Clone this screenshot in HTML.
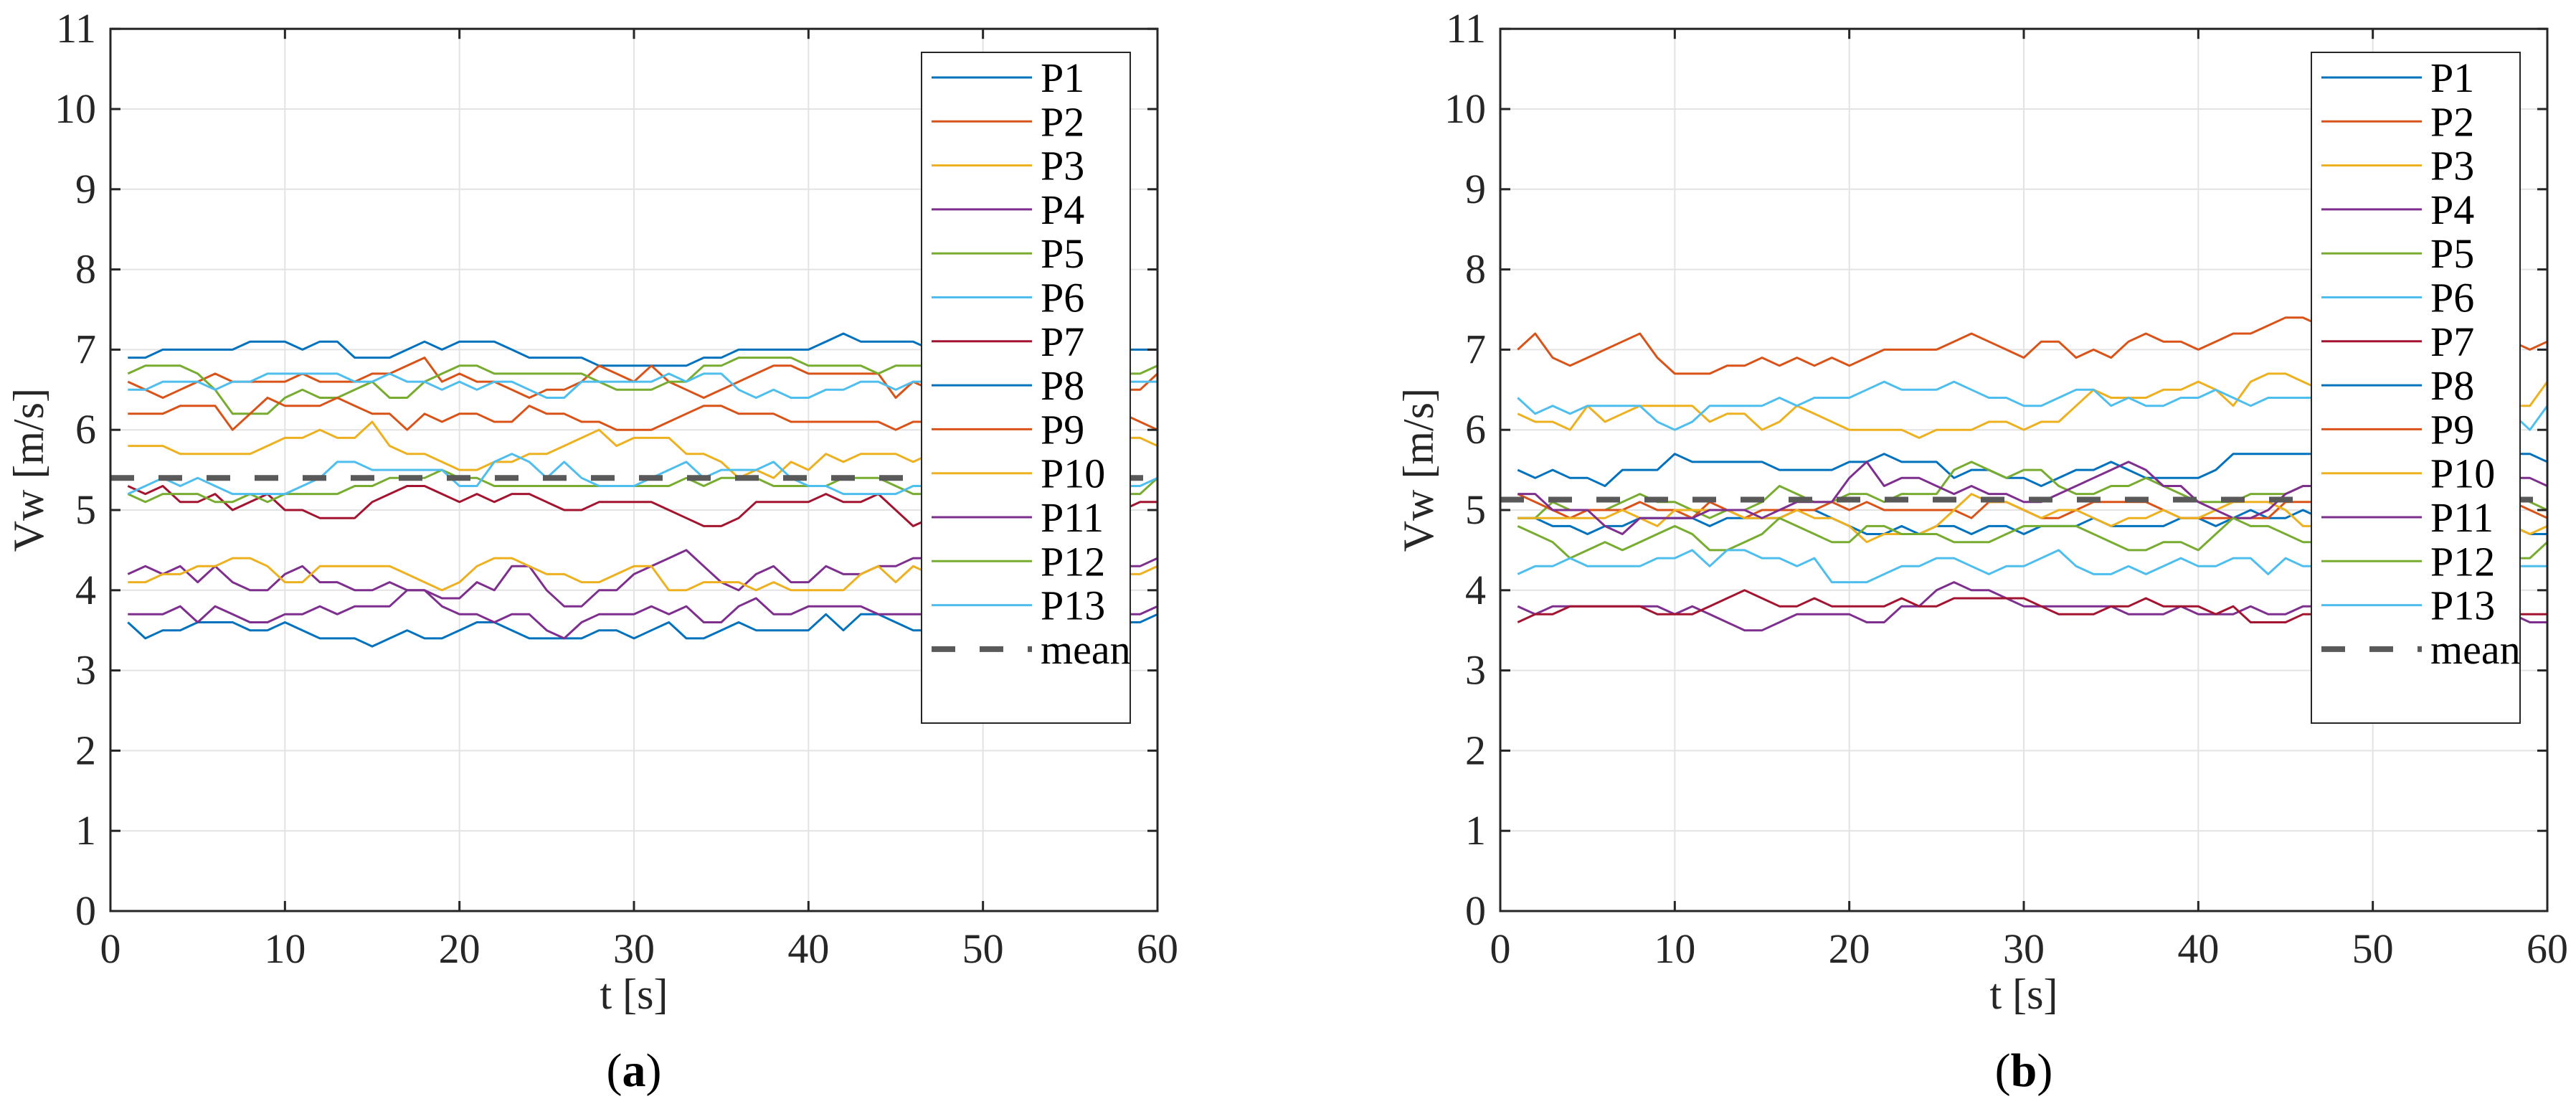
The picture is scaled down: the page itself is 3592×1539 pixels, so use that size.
<!DOCTYPE html>
<html><head><meta charset="utf-8">
<style>
html,body{margin:0;padding:0;background:#fff;}
svg{display:block;}
svg text{font-family:"Liberation Serif","Times New Roman","DejaVu Serif",serif;}
</style></head>
<body>
<svg id="chart" width="3592" height="1539" viewBox="0 0 3592 1539" xmlns="http://www.w3.org/2000/svg" font-family="'Liberation Serif', 'DejaVu Serif', serif"></svg>
<script>
// ---- data: time axis (seconds 1..60) ----
const times = [1,2,3,4,5,6,7,8,9,10,11,12,13,14,15,16,17,18,19,20,21,22,23,24,25,26,27,28,29,30,31,32,33,34,35,36,37,38,39,40,41,42,43,44,45,46,47,48,49,50,51,52,53,54,55,56,57,58,59,60];
const xTicks = [0,10,20,30,40,50,60];
const yTicks = [0,1,2,3,4,5,6,7,8,9,10,11];
const legendLabels = ["P1","P2","P3","P4","P5","P6","P7","P8","P9","P10","P11","P12","P13"];
const seriesColors = ["#0072BD","#D95319","#EDB120","#7E2F8E","#77AC30","#4DBEEE","#A2142F","#0072BD","#D95319","#EDB120","#7E2F8E","#77AC30","#4DBEEE"];

// ---- panel (a) ----
const a_P1 = [6.9,6.9,7.0,7.0,7.0,7.0,7.0,7.1,7.1,7.1, 7.0,7.1,7.1,6.9,6.9,6.9,7.0,7.1,7.0,7.1, 7.1,7.1,7.0,6.9,6.9,6.9,6.9,6.8,6.8,6.8, 6.8,6.8,6.8,6.9,6.9,7.0,7.0,7.0,7.0,7.0, 7.1,7.2,7.1,7.1,7.1,7.1,7.0,7.0,7.0,7.0, 7.0,7.0,7.0,7.0,7.0,7.0,7.0,7.0,7.0,7.0];
const a_P2 = [6.6,6.5,6.4,6.5,6.6,6.7,6.6,6.6,6.6,6.6, 6.7,6.6,6.6,6.6,6.7,6.7,6.8,6.9,6.6,6.7, 6.6,6.6,6.5,6.4,6.5,6.5,6.6,6.8,6.7,6.6, 6.8,6.6,6.5,6.4,6.5,6.6,6.7,6.8,6.8,6.7, 6.7,6.7,6.7,6.7,6.4,6.6,6.5,6.5,6.5,6.5, 6.5,6.5,6.5,6.5,6.5,6.5,6.5,6.5,6.5,6.7];
const a_P3 = [5.8,5.8,5.8,5.7,5.7,5.7,5.7,5.7,5.8,5.9, 5.9,6.0,5.9,5.9,6.1,5.8,5.7,5.7,5.6,5.5, 5.5,5.6,5.6,5.7,5.7,5.8,5.9,6.0,5.8,5.9, 5.9,5.9,5.7,5.7,5.6,5.4,5.5,5.4,5.6,5.5, 5.7,5.6,5.7,5.7,5.7,5.6,5.7,5.7,5.7,5.7, 5.7,5.7,5.7,5.7,5.7,5.7,5.8,5.9,5.9,5.8];
const a_P4 = [4.2,4.3,4.2,4.3,4.1,4.3,4.1,4.0,4.0,4.2, 4.3,4.1,4.1,4.0,4.0,4.1,4.0,4.0,3.9,3.9, 4.1,4.0,4.3,4.3,4.0,3.8,3.8,4.0,4.0,4.2, 4.3,4.4,4.5,4.3,4.1,4.0,4.2,4.3,4.1,4.1, 4.3,4.2,4.2,4.3,4.3,4.4,4.4,4.4,4.4,4.4, 4.4,4.4,4.4,4.4,4.4,4.4,4.3,4.3,4.3,4.4];
const a_P5 = [6.7,6.8,6.8,6.8,6.7,6.5,6.2,6.2,6.2,6.4, 6.5,6.4,6.4,6.5,6.6,6.4,6.4,6.6,6.7,6.8, 6.8,6.7,6.7,6.7,6.7,6.7,6.7,6.6,6.5,6.5, 6.5,6.6,6.6,6.8,6.8,6.9,6.9,6.9,6.9,6.8, 6.8,6.8,6.8,6.7,6.8,6.8,6.8,6.8,6.8,6.8, 6.8,6.8,6.8,6.8,6.8,6.8,6.8,6.7,6.7,6.8];
const a_P6 = [6.5,6.5,6.6,6.6,6.6,6.5,6.6,6.6,6.7,6.7, 6.7,6.7,6.7,6.6,6.6,6.7,6.6,6.6,6.5,6.6, 6.5,6.6,6.6,6.5,6.4,6.4,6.6,6.6,6.6,6.6, 6.6,6.7,6.6,6.7,6.7,6.5,6.4,6.5,6.4,6.4, 6.5,6.5,6.6,6.6,6.5,6.6,6.6,6.6,6.6,6.6, 6.6,6.6,6.6,6.6,6.6,6.6,6.6,6.6,6.6,6.6];
const a_P7 = [5.3,5.2,5.3,5.1,5.1,5.2,5.0,5.1,5.2,5.0, 5.0,4.9,4.9,4.9,5.1,5.2,5.3,5.3,5.2,5.1, 5.2,5.1,5.2,5.2,5.1,5.0,5.0,5.1,5.1,5.1, 5.1,5.0,4.9,4.8,4.8,4.9,5.1,5.1,5.1,5.1, 5.2,5.1,5.1,5.2,5.0,4.8,4.9,5.0,5.0,5.0, 5.0,5.0,5.0,5.0,5.0,5.0,5.0,5.0,5.1,5.1];
const a_P8 = [3.6,3.4,3.5,3.5,3.6,3.6,3.6,3.5,3.5,3.6, 3.5,3.4,3.4,3.4,3.3,3.4,3.5,3.4,3.4,3.5, 3.6,3.6,3.5,3.4,3.4,3.4,3.4,3.5,3.5,3.4, 3.5,3.6,3.4,3.4,3.5,3.6,3.5,3.5,3.5,3.5, 3.7,3.5,3.7,3.7,3.6,3.5,3.5,3.5,3.5,3.5, 3.5,3.5,3.5,3.5,3.5,3.5,3.6,3.6,3.6,3.7];
const a_P9 = [6.2,6.2,6.2,6.3,6.3,6.3,6.0,6.2,6.4,6.3, 6.3,6.3,6.4,6.3,6.2,6.2,6.0,6.2,6.1,6.2, 6.2,6.1,6.1,6.3,6.2,6.2,6.1,6.1,6.0,6.0, 6.0,6.1,6.2,6.3,6.3,6.2,6.2,6.2,6.1,6.1, 6.1,6.1,6.1,6.1,6.0,6.1,6.1,6.1,6.1,6.1, 6.1,6.1,6.1,6.1,6.1,6.1,6.2,6.2,6.1,6.0];
const a_P10 = [4.1,4.1,4.2,4.2,4.3,4.3,4.4,4.4,4.3,4.1, 4.1,4.3,4.3,4.3,4.3,4.3,4.2,4.1,4.0,4.1, 4.3,4.4,4.4,4.3,4.2,4.2,4.1,4.1,4.2,4.3, 4.3,4.0,4.0,4.1,4.1,4.1,4.0,4.1,4.0,4.0, 4.0,4.0,4.2,4.3,4.1,4.3,4.2,4.2,4.2,4.2, 4.2,4.2,4.2,4.2,4.2,4.2,4.2,4.2,4.2,4.3];
const a_P11 = [3.7,3.7,3.7,3.8,3.6,3.8,3.7,3.6,3.6,3.7, 3.7,3.8,3.7,3.8,3.8,3.8,4.0,4.0,3.8,3.7, 3.7,3.6,3.7,3.7,3.5,3.4,3.6,3.7,3.7,3.7, 3.8,3.7,3.8,3.6,3.6,3.8,3.9,3.7,3.7,3.8, 3.8,3.8,3.8,3.7,3.7,3.7,3.7,3.7,3.7,3.7, 3.7,3.7,3.7,3.7,3.7,3.7,3.7,3.7,3.7,3.8];
const a_P12 = [5.2,5.1,5.2,5.2,5.2,5.1,5.1,5.2,5.1,5.2, 5.2,5.2,5.2,5.3,5.3,5.4,5.4,5.4,5.5,5.4, 5.4,5.3,5.3,5.3,5.3,5.3,5.3,5.3,5.3,5.3, 5.3,5.3,5.4,5.3,5.4,5.4,5.4,5.3,5.3,5.3, 5.3,5.4,5.4,5.4,5.3,5.2,5.2,5.2,5.2,5.2, 5.2,5.2,5.2,5.2,5.2,5.2,5.2,5.2,5.2,5.4];
const a_P13 = [5.2,5.3,5.4,5.3,5.4,5.3,5.2,5.2,5.2,5.2, 5.3,5.4,5.6,5.6,5.5,5.5,5.5,5.5,5.5,5.3, 5.3,5.6,5.7,5.6,5.4,5.6,5.4,5.3,5.3,5.3, 5.4,5.5,5.6,5.4,5.5,5.5,5.5,5.6,5.4,5.3, 5.3,5.2,5.2,5.2,5.2,5.3,5.3,5.3,5.3,5.3, 5.3,5.3,5.3,5.3,5.3,5.3,5.3,5.3,5.3,5.4];
const a_mean = 5.4;

// ---- panel (b) ----
const b_P1 = [5.5,5.4,5.5,5.4,5.4,5.3,5.5,5.5,5.5,5.7, 5.6,5.6,5.6,5.6,5.6,5.5,5.5,5.5,5.5,5.6, 5.6,5.7,5.6,5.6,5.6,5.4,5.5,5.5,5.4,5.4, 5.3,5.4,5.5,5.5,5.6,5.5,5.4,5.4,5.4,5.4, 5.5,5.7,5.7,5.7,5.7,5.7,5.7,5.7,5.7,5.7, 5.7,5.7,5.7,5.7,5.7,5.7,5.7,5.7,5.7,5.6];
const b_P2 = [7.0,7.2,6.9,6.8,6.9,7.0,7.1,7.2,6.9,6.7, 6.7,6.7,6.8,6.8,6.9,6.8,6.9,6.8,6.9,6.8, 6.9,7.0,7.0,7.0,7.0,7.1,7.2,7.1,7.0,6.9, 7.1,7.1,6.9,7.0,6.9,7.1,7.2,7.1,7.1,7.0, 7.1,7.2,7.2,7.3,7.4,7.4,7.3,7.3,7.3,7.3, 7.3,7.3,7.3,7.3,7.3,7.3,7.2,7.1,7.0,7.1];
const b_P3 = [6.2,6.1,6.1,6.0,6.3,6.1,6.2,6.3,6.3,6.3, 6.3,6.1,6.2,6.2,6.0,6.1,6.3,6.2,6.1,6.0, 6.0,6.0,6.0,5.9,6.0,6.0,6.0,6.1,6.1,6.0, 6.1,6.1,6.3,6.5,6.4,6.4,6.4,6.5,6.5,6.6, 6.5,6.3,6.6,6.7,6.7,6.6,6.5,6.5,6.5,6.5, 6.5,6.5,6.5,6.5,6.5,6.5,6.4,6.3,6.3,6.6];
const b_P4 = [3.8,3.7,3.8,3.8,3.8,3.8,3.8,3.8,3.8,3.7, 3.8,3.7,3.6,3.5,3.5,3.6,3.7,3.7,3.7,3.7, 3.6,3.6,3.8,3.8,4.0,4.1,4.0,4.0,3.9,3.8, 3.8,3.8,3.8,3.8,3.8,3.7,3.7,3.7,3.8,3.7, 3.7,3.7,3.8,3.7,3.7,3.8,3.8,3.8,3.8,3.8, 3.8,3.8,3.8,3.8,3.8,3.8,3.7,3.7,3.6,3.6];
const b_P5 = [4.9,4.9,5.1,5.0,5.0,5.0,5.1,5.2,5.1,5.1, 5.0,4.9,5.0,5.0,5.1,5.3,5.2,5.1,5.1,5.2, 5.2,5.1,5.2,5.2,5.2,5.5,5.6,5.5,5.4,5.5, 5.5,5.3,5.2,5.2,5.3,5.3,5.4,5.3,5.2,5.1, 5.1,5.1,5.2,5.2,5.2,5.3,5.3,5.3,5.3,5.3, 5.3,5.3,5.3,5.3,5.3,5.3,5.2,5.2,5.1,5.0];
const b_P6 = [6.4,6.2,6.3,6.2,6.3,6.3,6.3,6.3,6.1,6.0, 6.1,6.3,6.3,6.3,6.3,6.4,6.3,6.4,6.4,6.4, 6.5,6.6,6.5,6.5,6.5,6.6,6.5,6.4,6.4,6.3, 6.3,6.4,6.5,6.5,6.3,6.4,6.3,6.3,6.4,6.4, 6.5,6.4,6.3,6.4,6.4,6.4,6.4,6.4,6.4,6.4, 6.4,6.4,6.4,6.4,6.4,6.4,6.3,6.2,6.0,6.3];
const b_P7 = [3.6,3.7,3.7,3.8,3.8,3.8,3.8,3.8,3.7,3.7, 3.7,3.8,3.9,4.0,3.9,3.8,3.8,3.9,3.8,3.8, 3.8,3.8,3.9,3.8,3.8,3.9,3.9,3.9,3.9,3.9, 3.8,3.7,3.7,3.7,3.8,3.8,3.9,3.8,3.8,3.8, 3.7,3.8,3.6,3.6,3.6,3.7,3.7,3.7,3.7,3.7, 3.7,3.7,3.7,3.7,3.7,3.7,3.7,3.7,3.7,3.7];
const b_P8 = [4.9,4.9,4.8,4.8,4.7,4.8,4.8,4.9,4.9,4.9, 4.9,4.8,4.9,4.9,4.9,4.9,5.0,5.0,4.9,4.8, 4.7,4.7,4.8,4.7,4.8,4.8,4.7,4.8,4.8,4.7, 4.8,4.8,4.8,4.9,4.8,4.8,4.8,4.8,4.9,4.9, 4.8,4.9,5.0,4.9,4.9,5.0,4.9,4.9,4.9,4.9, 4.9,4.9,4.9,4.9,4.9,4.9,4.8,4.8,4.7,4.7];
const b_P9 = [5.2,5.1,5.0,4.9,5.0,5.0,5.0,5.1,5.0,5.0, 4.9,5.1,5.0,4.9,5.0,5.0,5.0,5.0,5.1,5.0, 5.1,5.0,5.0,5.0,5.0,5.0,4.9,5.1,5.1,5.0, 4.9,4.9,5.0,5.1,5.1,5.1,5.1,5.0,4.9,4.9, 4.9,4.9,4.9,4.9,5.1,5.1,5.1,5.1,5.1,5.1, 5.1,5.1,5.1,5.1,5.1,5.1,5.1,5.1,5.0,4.9];
const b_P10 = [4.9,4.9,4.9,4.9,4.9,4.9,5.0,4.9,4.8,5.0, 5.0,5.0,5.0,4.9,4.9,4.9,5.0,4.9,4.9,4.8, 4.6,4.7,4.7,4.7,4.8,5.0,5.2,5.1,5.1,5.0, 4.9,5.0,5.0,4.9,4.8,4.9,4.9,5.0,4.9,4.9, 5.0,5.1,5.1,5.1,5.0,4.8,4.8,4.8,4.8,4.8, 4.8,4.8,4.8,4.8,4.8,4.8,4.8,4.8,4.7,4.8];
const b_P11 = [5.2,5.2,5.0,5.0,5.0,4.8,4.7,4.9,4.9,4.9, 4.9,5.0,5.0,5.0,4.9,5.0,5.1,5.1,5.1,5.4, 5.6,5.3,5.4,5.4,5.3,5.2,5.3,5.2,5.2,5.1, 5.1,5.2,5.3,5.4,5.5,5.6,5.5,5.3,5.3,5.1, 5.0,4.9,4.9,5.0,5.2,5.3,5.3,5.3,5.3,5.3, 5.3,5.3,5.3,5.3,5.3,5.3,5.3,5.4,5.4,5.3];
const b_P12 = [4.8,4.7,4.6,4.4,4.5,4.6,4.5,4.6,4.7,4.8, 4.7,4.5,4.5,4.6,4.7,4.9,4.8,4.7,4.6,4.6, 4.8,4.8,4.7,4.7,4.7,4.6,4.6,4.6,4.7,4.8, 4.8,4.8,4.8,4.7,4.6,4.5,4.5,4.6,4.6,4.5, 4.7,4.9,4.8,4.8,4.7,4.6,4.6,4.6,4.6,4.6, 4.6,4.6,4.6,4.6,4.6,4.6,4.5,4.4,4.4,4.6];
const b_P13 = [4.2,4.3,4.3,4.4,4.3,4.3,4.3,4.3,4.4,4.4, 4.5,4.3,4.5,4.5,4.4,4.4,4.3,4.4,4.1,4.1, 4.1,4.2,4.3,4.3,4.4,4.4,4.3,4.2,4.3,4.3, 4.4,4.5,4.3,4.2,4.2,4.3,4.2,4.3,4.4,4.3, 4.3,4.4,4.4,4.2,4.4,4.3,4.3,4.3,4.3,4.3, 4.3,4.3,4.3,4.3,4.3,4.3,4.3,4.3,4.3,4.3];
const b_mean = 5.13;

const NS = "http://www.w3.org/2000/svg";
const FONT = "'Liberation Serif', 'DejaVu Serif', serif";
const svg = document.getElementById("chart");
function mk(tag, attrs, parent) {
  const e = document.createElementNS(NS, tag);
  for (const k in attrs) e.setAttribute(k, attrs[k]);
  if (tag === "text") e.setAttribute("font-family", FONT);
  (parent || svg).appendChild(e);
  return e;
}

function drawPanel(ox, series, meanVal, letter) {
  const g = mk("g", {});
  
  
  const W = 1460, yBot = 1270, unit = 111.8;
  const xs = t => ox + t * W / 60;
  const ys = v => yBot - v * unit;
  xTicks.forEach(t => {
    const l = mk("line", {x1: xs(t), x2: xs(t), y1: ys(11), y2: ys(0), stroke: "#e3e3e3", "stroke-width": 2}, g);
    
    
  });
  yTicks.forEach(v => {
    const l = mk("line", {x1: xs(0), x2: xs(60), y1: ys(v), y2: ys(v), stroke: "#e3e3e3", "stroke-width": 2}, g);
    
    
  });
  series.forEach((vals, i) => {
    const pts = vals.map((v, k) => xs(times[k]).toFixed(1) + "," + ys(v).toFixed(1)).join(" ");
    const p = mk("polyline", {points: pts, fill: "none", stroke: seriesColors[i], "stroke-width": 3, "stroke-linejoin": "round"}, g);
    
    
  });
  const m = mk("line", {x1: xs(0), x2: xs(60), y1: ys(meanVal), y2: ys(meanVal), stroke: "#595959", "stroke-width": 8, "stroke-dasharray": "33 34"}, g);
  
  
  const box = mk("rect", {x: xs(0), y: ys(11), width: W, height: 11 * unit, fill: "none", stroke: "#262626", "stroke-width": 3}, g);
  
  
  xTicks.forEach(t => {
    mk("line", {x1: xs(t), x2: xs(t), y1: ys(0), y2: ys(0) - 14, stroke: "#262626", "stroke-width": 3}, g);
    mk("line", {x1: xs(t), x2: xs(t), y1: ys(11), y2: ys(11) + 14, stroke: "#262626", "stroke-width": 3}, g);
    const tx = mk("text", {x: xs(t), y: 1342, "text-anchor": "middle", "font-size": 58, fill: "#262626"}, g);
    tx.textContent = t;
    
    
  });
  yTicks.forEach(v => {
    mk("line", {x1: xs(0), x2: xs(0) + 14, y1: ys(v), y2: ys(v), stroke: "#262626", "stroke-width": 3}, g);
    mk("line", {x1: xs(60), x2: xs(60) - 14, y1: ys(v), y2: ys(v), stroke: "#262626", "stroke-width": 3}, g);
    const tx = mk("text", {x: ox - 20, y: ys(v) + 19, "text-anchor": "end", "font-size": 58, fill: "#262626"}, g);
    tx.textContent = v;
    
    
  });
  const xt = mk("text", {x: ox + 730, y: 1406, "text-anchor": "middle", "font-size": 60, fill: "#262626"}, g);
  xt.textContent = "t [s]";
  
  
  const yt = mk("text", {x: 0, y: 0, "text-anchor": "middle", "font-size": 60, fill: "#262626", transform: "translate(" + (ox - 94) + "," + ys(5.5) + ") rotate(-90)"}, g);
  yt.textContent = "Vw [m/s]";
  
  
  const cap = mk("text", {x: ox + 730, y: 1514, "text-anchor": "middle", "font-size": 66, fill: "#000"}, g);
  cap.innerHTML = '(<tspan font-weight="bold">' + letter + '</tspan>)';
  
  
  const lg = mk("g", {}, g);
  
  
  mk("rect", {x: ox + 1131, y: 73, width: 291, height: 935, fill: "#fff", stroke: "#262626", "stroke-width": 2}, lg);
  const entries = legendLabels.concat(["mean"]);
  entries.forEach((lab, i) => {
    const y = 108 + i * 61.3;
    const isMean = lab === "mean";
    const ln = mk("line", {x1: ox + 1145, x2: ox + 1285, y1: y, y2: y,
      stroke: isMean ? "#595959" : seriesColors[i], "stroke-width": isMean ? 8 : 3,
      "stroke-dasharray": isMean ? "33 34" : "none"}, lg);
    
    
    const tx = mk("text", {x: ox + 1297, y: y + 20, "font-size": 58, fill: "#000"}, lg);
    tx.textContent = lab;
    
    
  });
}

drawPanel(154, [a_P1,a_P2,a_P3,a_P4,a_P5,a_P6,a_P7,a_P8,a_P9,a_P10,a_P11,a_P12,a_P13], a_mean, "a");
drawPanel(2092, [b_P1,b_P2,b_P3,b_P4,b_P5,b_P6,b_P7,b_P8,b_P9,b_P10,b_P11,b_P12,b_P13], b_mean, "b");
</script>
</body></html>
